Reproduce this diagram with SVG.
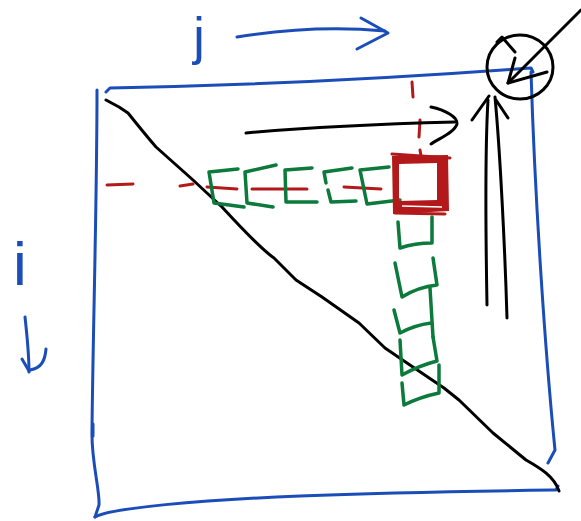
<svg xmlns="http://www.w3.org/2000/svg" width="581" height="521" viewBox="0 0 581 521">
<style>
.b{fill:none;stroke:#1a4db8;stroke-width:3;stroke-linecap:round;stroke-linejoin:round}
.k{fill:none;stroke:#000;stroke-width:3;stroke-linecap:round;stroke-linejoin:round}
.g{fill:none;stroke:#0b7a3b;stroke-width:3.5;stroke-linecap:round;stroke-linejoin:round}
.r{fill:none;stroke:#b3191b;stroke-width:3;stroke-linecap:round;stroke-linejoin:round}
.lbl{font-family:"Liberation Sans",Arial,sans-serif;fill:#1a4db8;text-anchor:middle}
</style>
<rect width="581" height="521" fill="#fff"/>
<g id="matrix">
<path class="b" d="M106,92 L110,88 Q320,84 531,68 L533,72"/>
<path class="b" d="M97,90 C97,200 93,330 92,430 C91,460 100,490 99,505 L95,517"/>
<path class="b" d="M95,517 C110,508 200,500 300,496 S480,491 556,490 L558,486"/>
<path class="b" d="M531,72 C535,200 545,350 555,450 L548,463"/>
<path class="b" d="M93,424 L93,436"/>
</g>
<g id="diagonal">
<path class="k" d="M106,100 L119,107 L128,113 C140,128 150,140 156,147 L193,180 L222,207 C245,232 262,250 274,258 L296,280 L322,297 L359,323 L385,348 L407,363 L444,388 L459,400 L493,433 L526,460 C540,468 554,476 559,491"/>
</g>
<g id="labels">
<text class="lbl" x="199" y="54" font-size="52">j</text>
<text class="lbl" x="20" y="285" font-size="62">i</text>
</g>
<g id="guides">
<path class="r" d="M107,185 L133,184 M180,186 L193,184 M207,187 L237,189 M252,189 L307,189 M344,187 L381,189"/>
<path class="r" d="M412,82 L413,97 M420,120 L419,137 M420,150 L421,156"/>
</g>
<g id="row-blocks">
<path class="g" d="M238,169 L209,172 L214,203 L244,207"/>
<path class="g" d="M276,165 L245,172 L247,203 L273,207"/>
<path class="g" d="M312,168 L285,170 L286,202 L317,202"/>
<path class="g" d="M352,168 L324,172 L326,183 M328,190 L331,202 L356,201"/>
<path class="g" d="M389,167 L360,170 L367,204 L400,200"/>
</g>
<g id="col-blocks">
<path class="g" d="M398,222 L400,248 Q415,243 432,243 L432,217"/>
<path class="g" d="M395,263 L402,297 Q418,287 437,285 L433,258"/>
<path class="g" d="M394,310 L400,333 Q415,325 431,323 M430,288 L433,337"/>
<path class="g" d="M400,340 L402,375 Q418,366 437,361 L433,337"/>
<path class="g" d="M402,383 L404,405 Q420,397 439,393 L439,365"/>
</g>
<g id="current-block">
<path fill="#b3191b" fill-rule="evenodd" d="M392,156 L448,155 L449,211 L393,214 Z M399,164 L437,163 L437,200 L399,201 Z"/>
<path class="r" d="M392,154 L450,158 M395,213 L445,214"/>
<path fill="none" stroke="#fff" stroke-width="1.3" d="M402,206 L442,207"/>
</g>
<g id="connectors">
<path class="b" d="M237,37 C280,30 330,26 385,31"/>
<path class="b" d="M361,18 L388,33 L357,49"/>
<path class="b" d="M25,317 C27,335 29,355 29,372"/>
<path class="b" d="M22,359 L29,371 M46,349 C45,360 42,368 30,370"/>
<path class="k" d="M246,133 C300,128 380,124 455,122"/>
<path class="k" d="M431,107 C445,110 458,117 457,124 C455,132 440,138 431,144"/>
<ellipse class="k" cx="520" cy="67" rx="33" ry="32"/>
<path class="k" d="M581,10 L508,83"/>
<path class="k" d="M515,58 L508,83 L547,72"/>
<path class="k" d="M487,305 C486,250 485,150 488,100"/>
<path class="k" d="M507,318 C505,250 500,150 495,97"/>
<path class="k" d="M472,120 L489,96 M508,118 L496,100"/>
<path class="k" d="M497,42 L502,37 L515,52"/>
</g>
</svg>
